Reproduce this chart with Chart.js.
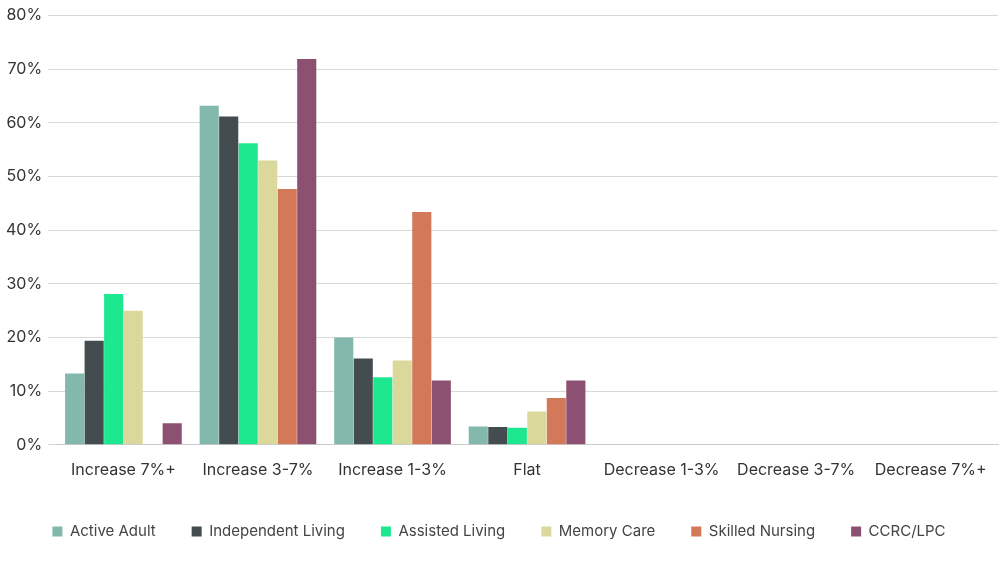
<!DOCTYPE html>
<html><head><meta charset="utf-8">
<script src="https://cdn.jsdelivr.net/npm/chart.js@4"></script>
<style>html,body{margin:0;padding:0;background:#fff}#w{width:1000px;height:563px}</style>
</head><body><div id="w"><canvas id="c"></canvas></div>
<script>
const categories = ["Increase 7%+","Increase 3-7%","Increase 1-3%","Flat","Decrease 1-3%","Decrease 3-7%","Decrease 7%+"];
const activeAdult = [13.3,63.2,20,3.4,0,0,0];
const independentLiving = [19.4,61.2,16.1,3.3,0,0,0];
const assistedLiving = [28.1,56.2,12.6,3.2,0,0,0];
const memoryCare = [25,53,15.7,6.2,0,0,0];
const skilledNursing = [0,47.7,43.4,8.7,0,0,0];
const ccrcLpc = [4,71.9,12,12,0,0,0];
const seriesNames = ["Active Adult","Independent Living","Assisted Living","Memory Care","Skilled Nursing","CCRC/LPC"];
const colors = ["#82b9ac","#434d4f","#1ee88f","#dbd89c","#d4785a","#8c5070"];
const vals = [activeAdult,independentLiving,assistedLiving,memoryCare,skilledNursing,ccrcLpc];
new Chart(document.getElementById('c'),{
 type:'bar',
 data:{labels:categories,datasets:vals.map((d,i)=>({label:seriesNames[i],data:d,backgroundColor:colors[i],categoryPercentage:0.87,barPercentage:0.98}))},
 options:{responsive:true,maintainAspectRatio:false,animation:false,
  layout:{padding:{left:0,right:2,top:2,bottom:14}},
  plugins:{legend:{position:'bottom',labels:{boxWidth:10,boxHeight:10,padding:36,color:'#444',font:{family:'Inter',size:15}}},tooltip:{enabled:false}},
  scales:{
   x:{grid:{display:false},border:{color:'#ccc'},ticks:{color:'#333',font:{family:'Inter',size:16},padding:8}},
   y:{min:0,max:80,ticks:{stepSize:10,callback:v=>v+'%',color:'#333',font:{family:'Inter',size:16},padding:6},grid:{color:'#d8d8d8'},border:{display:false}}
  }}
});
</script></body></html>
